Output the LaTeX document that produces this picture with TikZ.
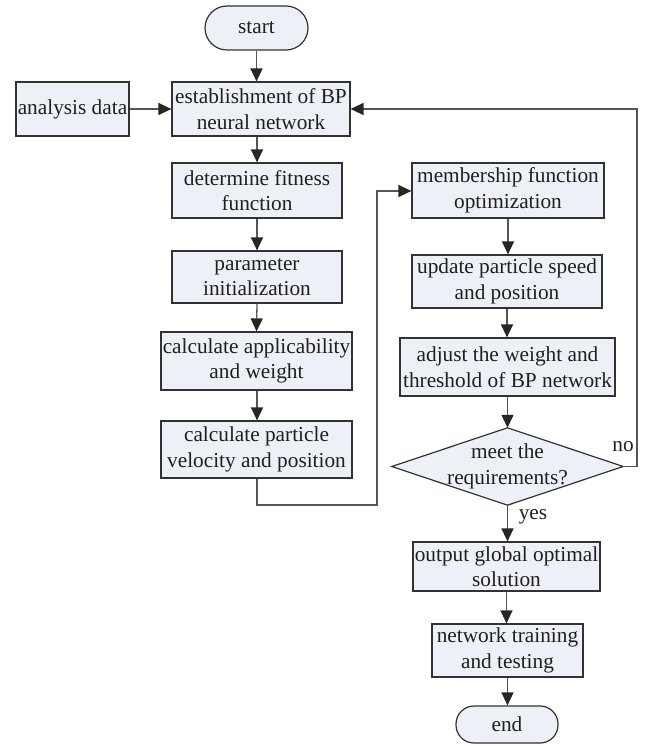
\documentclass[tikz,border=0pt]{standalone}
\usepackage{fontspec}
\setmainfont{Liberation Serif}
\usetikzlibrary{arrows.meta}
\definecolor{boxfill}{RGB}{237,241,247}
\definecolor{boxline}{RGB}{50,50,50}
\definecolor{conline}{RGB}{85,85,85}
\tikzset{
  every node/.style={font=\fontsize{21.3}{25.5}\selectfont, text=black!88},
  procbox/.style={draw=boxline, fill=boxfill, line width=1.2pt, align=center, inner sep=0pt},
  termbox/.style={draw=boxline, fill=boxfill, line width=1.2pt, align=center, inner sep=0pt, rounded corners=18pt},
  decarea/.style={align=center, inner sep=0pt},
  decshape/.style={draw=boxline, fill=boxfill, line width=1.2pt},
  conn/.style={draw=conline, line width=1.3pt, -{Triangle[length=13pt,width=12pt,fill=black!85,color=black!85]}},
  lbl/.style={inner sep=0pt}
}
\begin{document}
\begin{tikzpicture}[x=1pt,y=-1pt]
\useasboundingbox (0,0) rectangle (645,746);
\node[termbox, minimum width=103pt, minimum height=44pt, rounded corners=22pt] (start) at (256.5,28) {start};
\node[procbox, minimum width=113pt, minimum height=54pt] (ana) at (72.5,109) {analysis data};
\node[procbox, minimum width=178pt, minimum height=54pt] (est) at (261,109) {establishment of BP\\neural network};
\node[procbox, minimum width=170pt, minimum height=55pt] (fit) at (257,190.5) {determine fitness\\function};
\node[procbox, minimum width=170pt, minimum height=52pt] (par) at (257,277) {parameter\\initialization};
\node[procbox, minimum width=191pt, minimum height=58pt] (app) at (256.5,361) {calculate applicability\\and weight};
\node[procbox, minimum width=191pt, minimum height=57pt] (vel) at (256.5,449.5) {calculate particle\\velocity and position};
\node[procbox, minimum width=192pt, minimum height=55pt] (mem) at (508,190.5) {membership function\\optimization};
\node[procbox, minimum width=190pt, minimum height=53pt] (upd) at (507,281.5) {update particle speed\\and position};
\node[procbox, minimum width=215pt, minimum height=58pt] (adj) at (507.5,367) {adjust the weight and\\threshold of BP network};
\node[decarea, minimum width=231pt, minimum height=77pt] (dec) at (507.5,466.5) {};
\draw[decshape] (dec.west) -- (dec.north) -- (dec.east) -- (dec.south) -- cycle;
\node[decarea] (dectext) at (dec.center) {meet the\\requirements?};
\node[procbox, minimum width=187pt, minimum height=49pt] (out) at (506.5,566.5) {output global optimal\\solution};
\node[procbox, minimum width=151pt, minimum height=53pt] (net) at (507.5,650.5) {network training\\and testing};
\node[termbox, minimum width=102pt, minimum height=37pt] (end) at (507,724.5) {end};
\node[lbl] (no) at (623,447) {no};
\node[lbl] (yes) at (533,517) {yes};
\coordinate (c1) at (257,505);
\coordinate (c2) at (377,505);
\coordinate (c3) at (377,191);
\coordinate (f1) at (637,466.5);
\coordinate (f2) at (637,109);
\draw[conn] (start.south) -- (start.south |- est.north);
\draw[conn] (ana.east) -- (est.west);
\draw[conn] (fit.north |- est.south) -- (fit.north);
\draw[conn] (fit.south) -- (par.north);
\draw[conn] (par.south) -- (app.north);
\draw[conn] (par.south |- app.south) -- (par.south |- vel.north);
\draw[conn] (vel.south -| c1) -- (c1) -- (c2) -- (c3) -- (mem.west |- c3);
\draw[conn] (mem.south) -- (mem.south |- upd.north);
\draw[conn] (upd.south) -- (upd.south |- adj.north);
\draw[conn] (adj.south) -- (dec.north);
\draw[conn] (dec.south) -- (dec.south |- out.north);
\draw[conn] (out.south) -- (out.south |- net.north);
\draw[conn] (net.south) -- (net.south |- end.north);
\draw[conn] (dec.east) -- (f1) -- (f2) -- (est.east |- f2);
\end{tikzpicture}
\end{document}
